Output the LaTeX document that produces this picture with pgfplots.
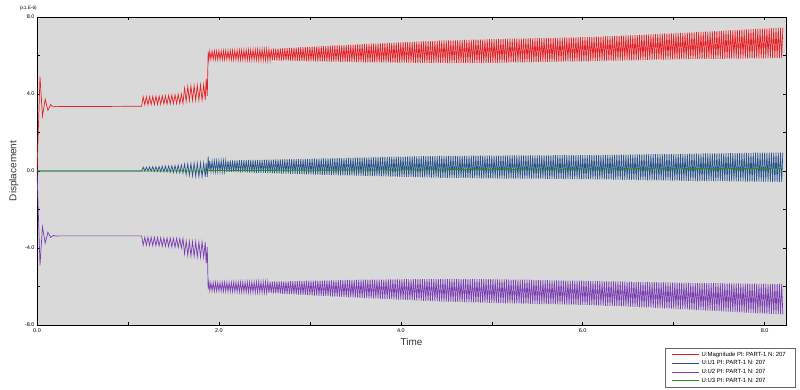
\documentclass[border=0pt]{standalone}
\usepackage{fontspec}
\setmainfont{Liberation Sans}
\usepackage{pgfplots}
\usepackage{pgfplotstable}
\pgfplotsset{compat=1.18}
\definecolor{plotbg}{RGB}{217,217,217}
\definecolor{cmag}{RGB}{232,32,38}
\definecolor{cuone}{RGB}{42,82,138}
\definecolor{cutwo}{RGB}{122,62,178}
\definecolor{cuthree}{RGB}{30,145,30}

\pgfplotstableread{
t mag u1 u2
0.000 0.00 0 0.00
0.033 4.90 0 -4.90
0.060 2.85 0 -2.90
0.090 3.72 0 -3.75
0.120 3.15 0 -3.18
0.150 3.45 0 -3.45
0.180 3.32 0 -3.35
0.210 3.36 0 -3.38
0.250 3.35 0 -3.37
0.600 3.35 0 -3.37
1.000 3.36 0 -3.37
1.1500 3.36 0 -3.37
1.1675 3.85 0.20 -3.85
1.1850 3.44 0.00 -3.44
1.2025 3.85 0.20 -3.85
1.2200 3.44 0.00 -3.44
1.2375 3.86 0.21 -3.86
1.2550 3.45 -0.01 -3.45
1.2725 3.87 0.22 -3.87
1.2900 3.45 -0.02 -3.45
1.3075 3.88 0.22 -3.88
1.3250 3.46 -0.02 -3.46
1.3425 3.89 0.23 -3.89
1.3600 3.47 -0.03 -3.47
1.3775 3.90 0.24 -3.90
1.3950 3.48 -0.04 -3.48
1.4125 3.91 0.25 -3.91
1.4300 3.48 -0.05 -3.48
1.4475 3.93 0.26 -3.93
1.4650 3.49 -0.06 -3.49
1.4825 3.94 0.27 -3.94
1.5000 3.50 -0.07 -3.50
1.5175 3.96 0.28 -3.96
1.5350 3.50 -0.08 -3.50
1.5525 3.98 0.30 -3.98
1.5700 3.51 -0.10 -3.51
1.5875 4.00 0.31 -4.00
1.6050 3.52 -0.11 -3.52
1.6225 4.30 0.35 -4.30
1.6400 3.64 -0.18 -3.64
1.6575 4.38 0.37 -4.38
1.6750 3.66 -0.22 -3.66
1.6925 4.41 0.39 -4.41
1.7100 3.67 -0.25 -3.67
1.7275 4.43 0.40 -4.43
1.7450 3.68 -0.27 -3.68
1.7625 4.45 0.41 -4.45
1.7800 3.69 -0.28 -3.69
1.7975 4.47 0.41 -4.47
1.8150 3.69 -0.29 -3.69
1.8325 4.48 0.42 -4.48
1.8500 3.70 -0.30 -3.70
1.8600 4.80 0.42 -4.80
1.8720 3.90 -0.30 -3.95
1.8820 6.20 0.74 -6.15
1.8910 5.80 0.00 -5.80
1.9000 6.22 0.52 -6.22
1.9125 5.80 -0.02 -5.80
1.9250 6.22 0.52 -6.23
1.9375 5.80 -0.02 -5.80
1.9500 6.23 0.53 -6.24
1.9625 5.80 -0.03 -5.79
1.9750 6.23 0.53 -6.23
1.9875 5.79 -0.03 -5.80
2.0000 6.24 0.53 -6.23
2.0125 5.79 -0.03 -5.80
2.0250 6.24 0.54 -6.24
2.0375 5.79 -0.04 -5.79
2.0500 6.25 0.54 -6.25
2.0625 5.79 -0.04 -5.78
2.0750 6.25 0.54 -6.25
2.0875 5.79 -0.05 -5.79
2.1000 6.25 0.54 -6.26
2.1125 5.79 -0.05 -5.79
2.1250 6.26 0.55 -6.26
2.1375 5.78 -0.05 -5.79
2.1500 6.26 0.55 -6.26
2.1625 5.78 -0.05 -5.78
2.1750 6.27 0.55 -6.27
2.1875 5.78 -0.06 -5.78
2.2000 6.27 0.55 -6.28
2.2125 5.78 -0.06 -5.78
2.2250 6.28 0.56 -6.28
2.2375 5.78 -0.07 -5.78
2.2500 6.28 0.56 -6.28
2.2625 5.78 -0.07 -5.77
2.2750 6.29 0.56 -6.29
2.2875 5.77 -0.07 -5.77
2.3000 6.29 0.56 -6.29
2.3125 5.77 -0.07 -5.77
2.3250 6.30 0.57 -6.30
2.3375 5.77 -0.08 -5.77
2.3500 6.30 0.57 -6.30
2.3625 5.77 -0.08 -5.76
2.3750 6.30 0.57 -6.31
2.3875 5.77 -0.09 -5.76
2.4000 6.30 0.57 -6.31
2.4125 5.77 -0.09 -5.76
2.4250 6.31 0.58 -6.31
2.4375 5.76 -0.09 -5.76
2.4500 6.31 0.58 -6.31
2.4625 5.76 -0.09 -5.76
2.4750 6.32 0.58 -6.32
2.4875 5.76 -0.10 -5.76
2.5000 6.32 0.58 -6.32
2.5125 5.76 -0.10 -5.76
2.5250 6.33 0.59 -6.33
2.5375 5.75 -0.11 -5.75
2.5500 6.33 0.59 -6.34
2.5625 5.75 -0.11 -5.75
2.5750 6.34 0.59 -6.34
2.5875 5.75 -0.12 -5.75
2.6000 6.35 0.59 -6.35
2.6125 5.75 -0.12 -5.74
2.6250 6.35 0.60 -6.36
2.6375 5.74 -0.12 -5.74
2.6500 6.36 0.60 -6.36
2.6625 5.74 -0.12 -5.74
2.6750 6.37 0.60 -6.37
2.6875 5.74 -0.13 -5.74
2.7000 6.37 0.60 -6.38
2.7125 5.74 -0.13 -5.73
2.7250 6.38 0.61 -6.38
2.7375 5.73 -0.14 -5.73
2.7500 6.39 0.61 -6.39
2.7625 5.73 -0.14 -5.73
2.7750 6.39 0.61 -6.40
2.7875 5.73 -0.15 -5.72
2.8000 6.40 0.61 -6.40
2.8125 5.72 -0.15 -5.72
2.8250 6.41 0.62 -6.41
2.8375 5.72 -0.15 -5.72
2.8500 6.41 0.62 -6.42
2.8625 5.72 -0.16 -5.72
2.8750 6.42 0.62 -6.42
2.8875 5.72 -0.16 -5.71
2.9000 6.43 0.62 -6.43
2.9125 5.71 -0.16 -5.71
2.9250 6.43 0.63 -6.44
2.9375 5.71 -0.17 -5.71
2.9500 6.44 0.63 -6.44
2.9625 5.71 -0.17 -5.70
2.9750 6.44 0.63 -6.45
2.9875 5.70 -0.18 -5.70
3.0000 6.45 0.63 -6.45
3.0125 5.70 -0.18 -5.70
3.0250 6.46 0.64 -6.46
3.0375 5.70 -0.19 -5.70
3.0500 6.46 0.64 -6.47
3.0625 5.70 -0.19 -5.69
3.0750 6.47 0.64 -6.47
3.0875 5.69 -0.19 -5.69
3.1000 6.47 0.64 -6.48
3.1125 5.69 -0.19 -5.69
3.1250 6.48 0.65 -6.48
3.1375 5.69 -0.20 -5.69
3.1500 6.49 0.65 -6.49
3.1625 5.69 -0.20 -5.68
3.1750 6.49 0.65 -6.50
3.1875 5.68 -0.20 -5.68
3.2000 6.50 0.65 -6.50
3.2125 5.68 -0.20 -5.68
3.2250 6.51 0.66 -6.51
3.2375 5.68 -0.21 -5.68
3.2500 6.51 0.66 -6.52
3.2625 5.68 -0.21 -5.68
3.2750 6.52 0.66 -6.52
3.2875 5.68 -0.21 -5.68
3.3000 6.52 0.67 -6.53
3.3125 5.68 -0.22 -5.67
3.3250 6.53 0.67 -6.53
3.3375 5.67 -0.22 -5.67
3.3500 6.53 0.67 -6.54
3.3625 5.67 -0.22 -5.67
3.3750 6.54 0.67 -6.54
3.3875 5.67 -0.22 -5.67
3.4000 6.55 0.68 -6.55
3.4125 5.67 -0.23 -5.66
3.4250 6.55 0.68 -6.56
3.4375 5.66 -0.23 -5.66
3.4500 6.56 0.68 -6.56
3.4625 5.66 -0.23 -5.66
3.4750 6.56 0.69 -6.57
3.4875 5.66 -0.24 -5.66
3.5000 6.57 0.69 -6.57
3.5125 5.66 -0.24 -5.66
3.5250 6.58 0.69 -6.58
3.5375 5.66 -0.24 -5.65
3.5500 6.58 0.70 -6.59
3.5625 5.66 -0.25 -5.65
3.5750 6.59 0.70 -6.59
3.5875 5.65 -0.25 -5.65
3.6000 6.59 0.70 -6.60
3.6125 5.65 -0.25 -5.65
3.6250 6.60 0.70 -6.60
3.6375 5.65 -0.26 -5.65
3.6500 6.60 0.71 -6.61
3.6625 5.65 -0.26 -5.65
3.6750 6.61 0.71 -6.61
3.6875 5.65 -0.26 -5.64
3.7000 6.61 0.71 -6.62
3.7125 5.65 -0.26 -5.64
3.7250 6.62 0.72 -6.62
3.7375 5.64 -0.27 -5.64
3.7500 6.63 0.72 -6.63
3.7625 5.64 -0.27 -5.64
3.7750 6.63 0.72 -6.64
3.7875 5.64 -0.27 -5.64
3.8000 6.64 0.73 -6.64
3.8125 5.64 -0.28 -5.64
3.8250 6.64 0.73 -6.65
3.8375 5.64 -0.28 -5.63
3.8500 6.65 0.73 -6.65
3.8625 5.64 -0.28 -5.63
3.8750 6.66 0.73 -6.66
3.8875 5.63 -0.29 -5.63
3.9000 6.66 0.74 -6.66
3.9125 5.63 -0.29 -5.63
3.9250 6.67 0.74 -6.67
3.9375 5.63 -0.29 -5.63
3.9500 6.67 0.74 -6.68
3.9625 5.63 -0.29 -5.63
3.9750 6.68 0.75 -6.68
3.9875 5.63 -0.30 -5.63
4.0000 6.68 0.75 -6.68
4.0125 5.63 -0.30 -5.63
4.0250 6.69 0.75 -6.69
4.0375 5.63 -0.30 -5.62
4.0500 6.69 0.75 -6.70
4.0625 5.63 -0.31 -5.62
4.0750 6.70 0.76 -6.70
4.0875 5.63 -0.31 -5.63
4.1000 6.70 0.76 -6.70
4.1125 5.63 -0.31 -5.63
4.1250 6.71 0.76 -6.71
4.1375 5.62 -0.32 -5.62
4.1500 6.71 0.76 -6.72
4.1625 5.62 -0.32 -5.62
4.1750 6.72 0.76 -6.72
4.1875 5.62 -0.32 -5.62
4.2000 6.72 0.76 -6.72
4.2125 5.62 -0.32 -5.62
4.2250 6.73 0.77 -6.73
4.2375 5.62 -0.33 -5.62
4.2500 6.73 0.77 -6.74
4.2625 5.62 -0.33 -5.62
4.2750 6.74 0.77 -6.74
4.2875 5.62 -0.33 -5.61
4.3000 6.74 0.77 -6.74
4.3125 5.62 -0.33 -5.61
4.3250 6.75 0.77 -6.75
4.3375 5.62 -0.34 -5.62
4.3500 6.75 0.77 -6.76
4.3625 5.62 -0.34 -5.62
4.3750 6.76 0.78 -6.76
4.3875 5.62 -0.34 -5.62
4.4000 6.76 0.78 -6.76
4.4125 5.62 -0.34 -5.62
4.4250 6.77 0.78 -6.77
4.4375 5.62 -0.35 -5.61
4.4500 6.77 0.78 -6.78
4.4625 5.62 -0.35 -5.61
4.4750 6.78 0.78 -6.78
4.4875 5.62 -0.35 -5.62
4.5000 6.78 0.78 -6.78
4.5125 5.62 -0.35 -5.62
4.5250 6.79 0.78 -6.79
4.5375 5.61 -0.35 -5.62
4.5500 6.79 0.78 -6.79
4.5625 5.61 -0.35 -5.62
4.5750 6.79 0.79 -6.80
4.5875 5.62 -0.36 -5.61
4.6000 6.79 0.79 -6.80
4.6125 5.62 -0.36 -5.61
4.6250 6.80 0.79 -6.80
4.6375 5.62 -0.36 -5.62
4.6500 6.80 0.79 -6.80
4.6625 5.62 -0.36 -5.62
4.6750 6.81 0.79 -6.81
4.6875 5.61 -0.36 -5.61
4.7000 6.81 0.79 -6.81
4.7125 5.61 -0.36 -5.61
4.7250 6.81 0.79 -6.82
4.7375 5.62 -0.37 -5.62
4.7500 6.81 0.79 -6.82
4.7625 5.62 -0.37 -5.62
4.7750 6.82 0.80 -6.82
4.7875 5.62 -0.37 -5.61
4.8000 6.82 0.80 -6.82
4.8125 5.62 -0.37 -5.61
4.8250 6.83 0.80 -6.83
4.8375 5.62 -0.37 -5.62
4.8500 6.83 0.80 -6.83
4.8625 5.62 -0.37 -5.62
4.8750 6.83 0.80 -6.84
4.8875 5.61 -0.38 -5.62
4.9000 6.83 0.80 -6.84
4.9125 5.61 -0.38 -5.62
4.9250 6.84 0.80 -6.84
4.9375 5.62 -0.38 -5.62
4.9500 6.84 0.80 -6.84
4.9625 5.62 -0.38 -5.62
4.9750 6.85 0.80 -6.85
4.9875 5.62 -0.38 -5.62
5.0000 6.85 0.80 -6.85
5.0125 5.62 -0.38 -5.62
5.0250 6.85 0.80 -6.86
5.0375 5.62 -0.38 -5.63
5.0500 6.85 0.80 -6.86
5.0625 5.62 -0.38 -5.63
5.0750 6.86 0.80 -6.86
5.0875 5.63 -0.39 -5.63
5.1000 6.86 0.80 -6.86
5.1125 5.63 -0.39 -5.63
5.1250 6.86 0.80 -6.87
5.1375 5.63 -0.39 -5.63
5.1500 6.86 0.80 -6.87
5.1625 5.63 -0.39 -5.63
5.1750 6.87 0.81 -6.87
5.1875 5.64 -0.39 -5.64
5.2000 6.87 0.81 -6.87
5.2125 5.64 -0.39 -5.64
5.2250 6.87 0.81 -6.88
5.2375 5.64 -0.39 -5.64
5.2500 6.87 0.81 -6.88
5.2625 5.64 -0.39 -5.64
5.2750 6.88 0.81 -6.88
5.2875 5.64 -0.40 -5.65
5.3000 6.88 0.81 -6.88
5.3125 5.64 -0.40 -5.65
5.3250 6.88 0.81 -6.89
5.3375 5.65 -0.40 -5.65
5.3500 6.88 0.81 -6.89
5.3625 5.65 -0.40 -5.65
5.3750 6.89 0.81 -6.89
5.3875 5.65 -0.40 -5.65
5.4000 6.89 0.81 -6.89
5.4125 5.65 -0.40 -5.65
5.4250 6.89 0.81 -6.90
5.4375 5.66 -0.40 -5.66
5.4500 6.89 0.81 -6.90
5.4625 5.66 -0.40 -5.66
5.4750 6.90 0.81 -6.90
5.4875 5.66 -0.40 -5.66
5.5000 6.90 0.81 -6.90
5.5125 5.66 -0.40 -5.66
5.5250 6.90 0.81 -6.91
5.5375 5.66 -0.40 -5.67
5.5500 6.90 0.81 -6.91
5.5625 5.66 -0.40 -5.67
5.5750 6.91 0.81 -6.91
5.5875 5.67 -0.41 -5.67
5.6000 6.91 0.81 -6.91
5.6125 5.67 -0.41 -5.67
5.6250 6.91 0.81 -6.92
5.6375 5.67 -0.41 -5.68
5.6500 6.91 0.81 -6.92
5.6625 5.67 -0.41 -5.68
5.6750 6.92 0.82 -6.92
5.6875 5.68 -0.41 -5.68
5.7000 6.92 0.82 -6.92
5.7125 5.68 -0.41 -5.68
5.7250 6.92 0.82 -6.93
5.7375 5.68 -0.41 -5.68
5.7500 6.92 0.82 -6.93
5.7625 5.68 -0.41 -5.68
5.7750 6.93 0.82 -6.93
5.7875 5.69 -0.42 -5.69
5.8000 6.93 0.82 -6.93
5.8125 5.69 -0.42 -5.69
5.8250 6.93 0.82 -6.94
5.8375 5.69 -0.42 -5.69
5.8500 6.93 0.82 -6.94
5.8625 5.69 -0.42 -5.69
5.8750 6.94 0.82 -6.94
5.8875 5.69 -0.42 -5.70
5.9000 6.94 0.82 -6.94
5.9125 5.69 -0.42 -5.70
5.9250 6.94 0.82 -6.95
5.9375 5.70 -0.42 -5.70
5.9500 6.94 0.82 -6.95
5.9625 5.70 -0.42 -5.70
5.9750 6.95 0.82 -6.95
5.9875 5.70 -0.42 -5.70
6.0000 6.95 0.82 -6.95
6.0125 5.70 -0.42 -5.70
6.0250 6.95 0.82 -6.96
6.0375 5.70 -0.42 -5.71
6.0500 6.96 0.82 -6.96
6.0625 5.70 -0.42 -5.71
6.0750 6.96 0.83 -6.97
6.0875 5.71 -0.43 -5.71
6.1000 6.97 0.83 -6.97
6.1125 5.71 -0.43 -5.71
6.1250 6.97 0.83 -6.98
6.1375 5.71 -0.43 -5.72
6.1500 6.98 0.83 -6.98
6.1625 5.71 -0.43 -5.72
6.1750 6.98 0.83 -6.99
6.1875 5.72 -0.44 -5.72
6.2000 6.98 0.83 -6.99
6.2125 5.72 -0.44 -5.72
6.2250 6.99 0.84 -6.99
6.2375 5.72 -0.44 -5.73
6.2500 6.99 0.84 -7.00
6.2625 5.73 -0.44 -5.73
6.2750 7.00 0.84 -7.00
6.2875 5.73 -0.44 -5.73
6.3000 7.00 0.84 -7.00
6.3125 5.73 -0.44 -5.73
6.3250 7.01 0.84 -7.01
6.3375 5.73 -0.45 -5.74
6.3500 7.01 0.84 -7.01
6.3625 5.74 -0.45 -5.74
6.3750 7.02 0.85 -7.02
6.3875 5.74 -0.45 -5.74
6.4000 7.02 0.85 -7.02
6.4125 5.74 -0.45 -5.74
6.4250 7.03 0.85 -7.03
6.4375 5.74 -0.46 -5.75
6.4500 7.03 0.85 -7.03
6.4625 5.75 -0.46 -5.75
6.4750 7.04 0.85 -7.04
6.4875 5.75 -0.46 -5.75
6.5000 7.04 0.85 -7.04
6.5125 5.75 -0.46 -5.75
6.5250 7.05 0.85 -7.05
6.5375 5.75 -0.46 -5.75
6.5500 7.05 0.85 -7.05
6.5625 5.75 -0.46 -5.76
6.5750 7.06 0.86 -7.06
6.5875 5.76 -0.47 -5.76
6.6000 7.06 0.86 -7.06
6.6125 5.76 -0.47 -5.76
6.6250 7.07 0.86 -7.07
6.6375 5.76 -0.47 -5.76
6.6500 7.07 0.86 -7.08
6.6625 5.76 -0.47 -5.77
6.6750 7.08 0.86 -7.08
6.6875 5.77 -0.47 -5.77
6.7000 7.08 0.86 -7.09
6.7125 5.77 -0.48 -5.77
6.7250 7.09 0.87 -7.09
6.7375 5.77 -0.48 -5.77
6.7500 7.10 0.87 -7.10
6.7625 5.77 -0.48 -5.78
6.7750 7.10 0.87 -7.10
6.7875 5.78 -0.48 -5.78
6.8000 7.11 0.87 -7.11
6.8125 5.78 -0.48 -5.78
6.8250 7.11 0.87 -7.12
6.8375 5.78 -0.49 -5.78
6.8500 7.12 0.87 -7.12
6.8625 5.78 -0.49 -5.79
6.8750 7.13 0.88 -7.13
6.8875 5.79 -0.49 -5.79
6.9000 7.13 0.88 -7.13
6.9125 5.79 -0.49 -5.79
6.9250 7.14 0.88 -7.14
6.9375 5.79 -0.49 -5.79
6.9500 7.14 0.88 -7.14
6.9625 5.79 -0.50 -5.80
6.9750 7.15 0.88 -7.15
6.9875 5.80 -0.50 -5.80
7.0000 7.15 0.88 -7.15
7.0125 5.80 -0.50 -5.80
7.0250 7.16 0.88 -7.16
7.0375 5.80 -0.50 -5.80
7.0500 7.16 0.88 -7.17
7.0625 5.80 -0.50 -5.80
7.0750 7.17 0.89 -7.17
7.0875 5.81 -0.51 -5.81
7.1000 7.17 0.89 -7.18
7.1125 5.81 -0.51 -5.81
7.1250 7.18 0.89 -7.18
7.1375 5.81 -0.51 -5.81
7.1500 7.19 0.89 -7.19
7.1625 5.81 -0.51 -5.81
7.1750 7.19 0.90 -7.20
7.1875 5.81 -0.51 -5.82
7.2000 7.20 0.90 -7.20
7.2125 5.81 -0.51 -5.82
7.2250 7.20 0.90 -7.21
7.2375 5.82 -0.52 -5.82
7.2500 7.21 0.90 -7.21
7.2625 5.82 -0.52 -5.82
7.2750 7.22 0.90 -7.22
7.2875 5.82 -0.52 -5.82
7.3000 7.22 0.90 -7.23
7.3125 5.82 -0.52 -5.82
7.3250 7.23 0.91 -7.23
7.3375 5.82 -0.52 -5.83
7.3500 7.24 0.91 -7.24
7.3625 5.82 -0.52 -5.83
7.3750 7.24 0.91 -7.25
7.3875 5.83 -0.53 -5.83
7.4000 7.25 0.91 -7.25
7.4125 5.83 -0.53 -5.83
7.4250 7.25 0.92 -7.26
7.4375 5.83 -0.53 -5.83
7.4500 7.26 0.92 -7.26
7.4625 5.83 -0.53 -5.83
7.4750 7.27 0.92 -7.27
7.4875 5.83 -0.53 -5.83
7.5000 7.27 0.92 -7.28
7.5125 5.83 -0.53 -5.83
7.5250 7.28 0.92 -7.28
7.5375 5.83 -0.53 -5.84
7.5500 7.28 0.92 -7.29
7.5625 5.83 -0.53 -5.84
7.5750 7.29 0.93 -7.30
7.5875 5.84 -0.54 -5.84
7.6000 7.30 0.93 -7.30
7.6125 5.84 -0.54 -5.84
7.6250 7.30 0.93 -7.31
7.6375 5.84 -0.54 -5.84
7.6500 7.31 0.93 -7.32
7.6625 5.84 -0.54 -5.84
7.6750 7.32 0.93 -7.32
7.6875 5.84 -0.54 -5.84
7.7000 7.32 0.93 -7.33
7.7125 5.84 -0.54 -5.84
7.7250 7.33 0.94 -7.34
7.7375 5.84 -0.54 -5.85
7.7500 7.34 0.94 -7.34
7.7625 5.84 -0.54 -5.85
7.7750 7.34 0.94 -7.35
7.7875 5.85 -0.55 -5.85
7.8000 7.35 0.94 -7.36
7.8125 5.85 -0.55 -5.85
7.8250 7.35 0.94 -7.36
7.8375 5.85 -0.55 -5.85
7.8500 7.36 0.94 -7.37
7.8625 5.85 -0.55 -5.85
7.8750 7.37 0.95 -7.37
7.8875 5.85 -0.55 -5.85
7.9000 7.38 0.95 -7.38
7.9125 5.85 -0.55 -5.85
7.9250 7.38 0.95 -7.39
7.9375 5.85 -0.55 -5.86
7.9500 7.39 0.95 -7.40
7.9625 5.85 -0.55 -5.86
7.9750 7.39 0.95 -7.40
7.9875 5.85 -0.55 -5.86
8.0000 7.40 0.95 -7.41
8.0125 5.85 -0.55 -5.86
8.0250 7.40 0.95 -7.41
8.0375 5.86 -0.55 -5.86
8.0500 7.41 0.95 -7.42
8.0625 5.86 -0.56 -5.86
8.0750 7.41 0.96 -7.42
8.0875 5.86 -0.56 -5.86
8.1000 7.42 0.96 -7.43
8.1125 5.86 -0.56 -5.86
8.1250 7.42 0.96 -7.43
8.1375 5.86 -0.56 -5.86
8.1500 7.43 0.96 -7.44
8.1625 5.86 -0.56 -5.86
8.1750 7.43 0.96 -7.44
8.1875 5.86 -0.56 -5.86
8.2000 7.44 0.96 -7.45
}\datatab

\pgfplotstableread{
t u3
0.000 0.00
1.150 0.00
1.880 0.00
1.900 0.02
3.000 0.04
4.000 0.06
5.000 0.08
6.000 0.10
7.000 0.12
8.200 0.14
}\greentab

\begin{document}
\begin{tikzpicture}
\path[use as bounding box] (-37bp,-65bp) rectangle (763bp,325bp);
\begin{axis}[
  name=ax,
  at={(0bp,0bp)}, anchor=south west,
  scale only axis,
  width=749bp, height=308bp,
  xmin=0, xmax=8.235,
  ymin=-8, ymax=8,
  axis background/.style={fill=plotbg},
  axis line style={black, line width=0.6bp},
  tick align=inside,
  major tick length=3bp,
  tick style={black, line width=0.5bp},
  xtick={0,1,2,3,4,5,6,7,8},
  xticklabels={0.0,,2.0,,4.0,,6.0,,8.0},
  ytick={-8,-6,-4,-2,0,2,4,6,8},
  yticklabels={-8.0,,-4.0,,0.0,,4.0,,8.0},
  tick label style={font=\fontsize{5.5}{6}\selectfont},
  yticklabel style={xshift=1bp},
  xlabel={Time},
  ylabel={Displacement},
  label style={font=\fontsize{10}{12}\selectfont, text=black!80},
  xlabel style={at={(axis description cs:0.5,-0.055)}, anchor=center},
  ylabel style={at={(axis description cs:-0.031,0.5)}, anchor=center, rotate=0},
  legend style={
    at={(axis description cs:1.012,-0.075)}, anchor=north east,
    font=\fontsize{6}{6.5}\selectfont,
    draw=black!60, fill=white, line width=0.4bp,
    inner xsep=7bp, inner ysep=1.5bp,
    row sep=-1bp,
    legend cell align=left,
  },
  legend image code/.code={\draw[#1, line width=0.9bp] (0bp,0bp) -- (27bp,0bp);},
]
\addplot[cmag, line width=0.7bp] table[x=t, y=mag] {\datatab};
\addlegendentry{U:Magnitude PI: PART-1 N: 207}
\addplot[cuone, line width=0.7bp] table[x=t, y=u1] {\datatab};
\addlegendentry{U:U1 PI: PART-1 N: 207}
\addplot[cutwo, line width=0.7bp] table[x=t, y=u2] {\datatab};
\addlegendentry{U:U2 PI: PART-1 N: 207}
\addplot[cuthree, line width=0.8bp] table[x=t, y=u3] {\greentab};
\addlegendentry{U:U3 PI: PART-1 N: 207}
\end{axis}
\node[anchor=south east, font=\fontsize{4.8}{5}\selectfont, inner sep=0pt] at ([yshift=6bp]ax.north west) {(x1.E-6)};
\end{tikzpicture}
\end{document}
